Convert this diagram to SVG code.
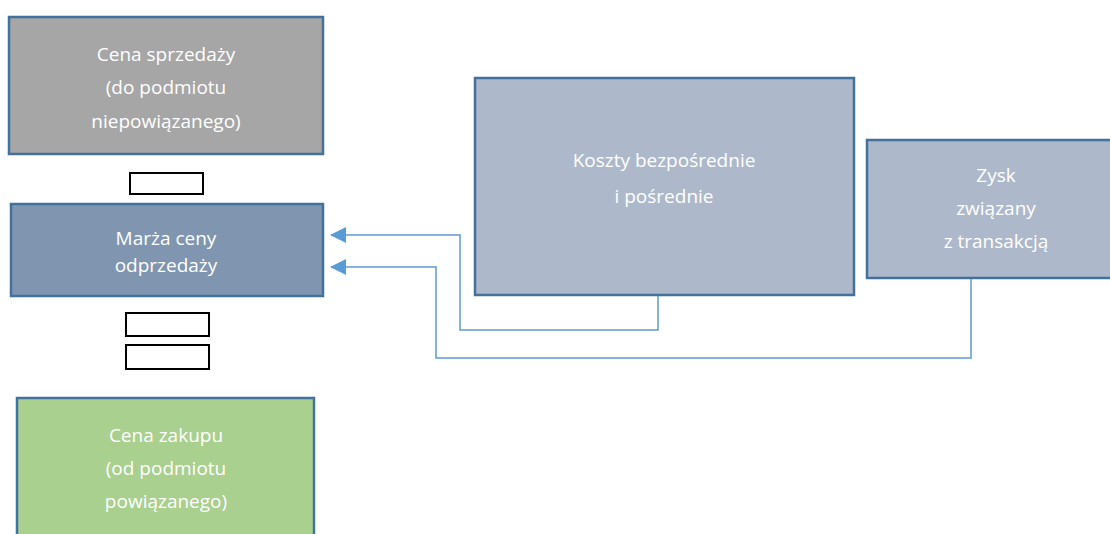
<svg xmlns="http://www.w3.org/2000/svg" width="1110" height="534" viewBox="0 0 1110 534">
<style>
.box{stroke:#41719c;stroke-width:2.5}
.sm{fill:#fff;stroke:#000;stroke-width:2}
.t{font-family:"Open Sans","Liberation Sans",sans-serif;font-size:19px;fill:#fff;text-anchor:middle}
.c{fill:none;stroke:#5b9bd5;stroke-width:1.5}
</style>
<defs>
<marker id="ah" markerWidth="16" markerHeight="16" viewBox="0 0 16 16" refX="15" refY="8" orient="auto" markerUnits="userSpaceOnUse">
<path d="M0,0 L16,8 L0,16 Z" fill="#5b9bd5"/>
</marker>
</defs>
<rect width="1110" height="534" fill="#fff"/>
<g id="cena-sprzedazy">
<rect class="box" x="9" y="17" width="314" height="137" fill="#a6a6a6"/>
<text class="t" x="166" y="61">Cena sprzedaży</text>
<text class="t" x="166" y="94">(do podmiotu</text>
<text class="t" x="166" y="128">niepowiązanego)</text>
</g>
<g id="op-minus">
<rect class="sm" x="130" y="173" width="73" height="21"/>
</g>
<g id="marza">
<rect class="box" x="11" y="204" width="312" height="92" fill="#8096b0"/>
<text class="t" x="166" y="245">Marża ceny</text>
<text class="t" x="166" y="272">odprzedaży</text>
</g>
<g id="op-equals">
<rect class="sm" x="126" y="313" width="83" height="23"/>
<rect class="sm" x="126" y="345" width="83" height="24"/>
</g>
<g id="cena-zakupu">
<rect class="box" x="17" y="398" width="297" height="150" fill="#a9d08e"/>
<text class="t" x="166" y="442">Cena zakupu</text>
<text class="t" x="166" y="475">(od podmiotu</text>
<text class="t" x="166" y="508">powiązanego)</text>
</g>
<g id="koszty">
<rect class="box" x="475" y="78" width="379" height="217" fill="#adb9ca"/>
<text class="t" x="664" y="167">Koszty bezpośrednie</text>
<text class="t" x="664" y="203">i pośrednie</text>
</g>
<g id="zysk">
<rect class="box" x="867" y="140" width="260" height="138" fill="#adb9ca"/>
<text class="t" x="996" y="182">Zysk</text>
<text class="t" x="996" y="215">związany</text>
<text class="t" x="996" y="248">z transakcją</text>
</g>
<g id="connectors">
<path class="c" d="M658,296 V330 H460 V235 H331" marker-end="url(#ah)"/>
<path class="c" d="M971,279 V358 H436 V267 H331" marker-end="url(#ah)"/>
</g>
</svg>
